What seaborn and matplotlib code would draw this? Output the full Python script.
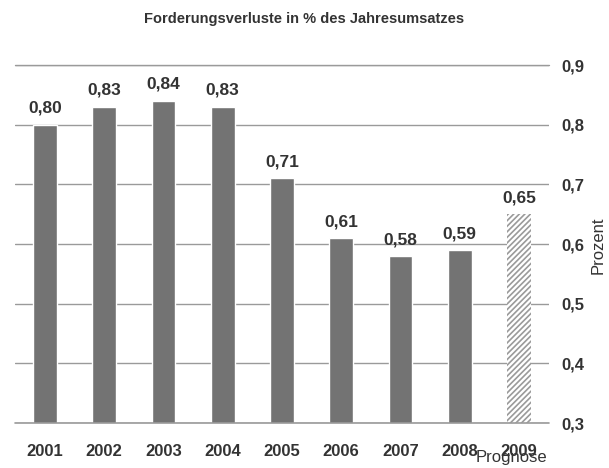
import matplotlib
matplotlib.use('Agg')
import matplotlib.pyplot as plt
import seaborn as sns
import pandas as pd

years = ['2001', '2002', '2003', '2004', '2005', '2006', '2007', '2008', '2009']
values = [0.80, 0.83, 0.84, 0.83, 0.71, 0.61, 0.58, 0.59, 0.65]
labels = ['0,80', '0,83', '0,84', '0,83', '0,71', '0,61', '0,58', '0,59', '0,65']
yticks = [0.3, 0.4, 0.5, 0.6, 0.7, 0.8, 0.9]
ytick_labels = ['0,3', '0,4', '0,5', '0,6', '0,7', '0,8', '0,9']

sns.set_theme(style='white')
plt.rcParams['font.family'] = ['Liberation Sans', 'DejaVu Sans']
plt.rcParams['hatch.color'] = '#9a9a9a'
plt.rcParams['hatch.linewidth'] = 1.2

df = pd.DataFrame({'Jahr': years, 'Wert': values})

fig = plt.figure(figsize=(6.09, 4.68), dpi=100)
ax = fig.add_axes([0.025, 0.096, 0.876, 0.765])

sns.barplot(data=df, x='Jahr', y='Wert', color='#737373', width=0.4,
            saturation=1, ax=ax, zorder=3)

# last bar is the forecast -> hatched
last = ax.patches[-1]
last.set_facecolor('white')
last.set_hatch('//////')
last.set_edgecolor('#9a9a9a')
last.set_linewidth(0)

for i, (v, lab) in enumerate(zip(values, labels)):
    ax.text(i, v + 0.015, lab, ha='center', va='bottom', fontsize=12.5,
            fontweight='bold', color='#333333')

ax.set_ylim(0.3, 0.9)
ax.set_xlim(-0.5, len(years) - 0.5)
ax.set_yticks(yticks)
ax.set_yticklabels(ytick_labels, fontsize=12, fontweight='bold', color='#333333')
ax.yaxis.tick_right()
ax.set_ylabel('')
ax.set_xlabel('')
ax.set_xticks(range(len(years)))
ax.set_xticklabels(years, fontsize=12, fontweight='bold', color='#333333')
ax.tick_params(axis='both', length=0)
ax.tick_params(axis='x', pad=15)
ax.tick_params(axis='y', pad=9)

ax.grid(axis='y', color='#9a9a9a', linewidth=1, zorder=0)
ax.axhline(0.3, color='#9a9a9a', linewidth=1.2, zorder=4, clip_on=False)
ax.axhline(0.9, color='#9a9a9a', linewidth=1, zorder=0, clip_on=False)
for s in ['top', 'right', 'left', 'bottom']:
    ax.spines[s].set_visible(False)

ax.text(7.87, -0.095, 'Prognose', transform=ax.get_xaxis_transform(),
        ha='center', va='center', fontsize=12, color='#333333')

fig.text(0.982, 0.476, 'Prozent', rotation=90, ha='center', va='center',
         fontsize=12, color='#333333')

fig.suptitle('Forderungsverluste in % des Jahresumsatzes', x=0.5, y=0.975,
             fontsize=10.5, fontweight='bold', color='#333333')

fig.savefig('out.png', dpi=100)
